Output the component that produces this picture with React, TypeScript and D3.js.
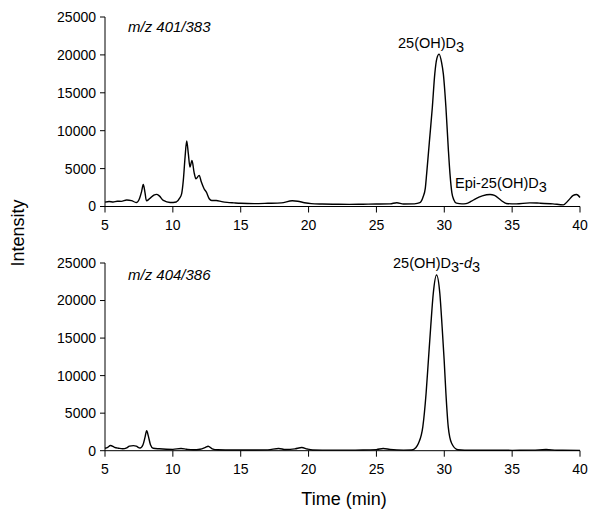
import React from "react";
import * as d3 from "d3";

const xTicks = [5, 10, 15, 20, 25, 30, 35, 40];
const yTicks = [0, 5000, 10000, 15000, 20000, 25000];

const topTime = [5.0, 5.3, 5.6, 5.9, 6.2, 6.6, 6.95, 7.3, 7.55, 7.7, 7.82, 7.95, 8.05, 8.3, 8.6, 8.8, 9.0, 9.3, 9.8, 10.25, 10.5, 10.65, 10.77, 10.9, 11.02, 11.14, 11.26, 11.41, 11.56, 11.7, 11.94, 12.1, 12.3, 12.47, 12.68, 12.86, 13.2, 13.6, 14.0, 14.5, 15.0, 16.0, 17.0, 18.0, 18.8, 19.2, 19.7, 20.2, 21, 22, 23, 24, 25, 26, 26.5, 27.0, 27.8, 28.2, 28.43, 28.6, 28.7, 28.9, 29.12, 29.3, 29.45, 29.62, 29.8, 29.93, 30.12, 30.3, 30.42, 30.56, 30.7, 30.9, 31.3, 31.6, 32.0, 32.3, 32.8, 33.37, 33.7, 34.2, 34.57, 35.3, 36.3, 37.0, 38.0, 38.77, 39.14, 39.5, 39.75, 40.0];
const topIntensity = [570, 650, 600, 700, 680, 850, 780, 530, 1100, 2000, 2900, 1800, 750, 1050, 1500, 1600, 1400, 800, 530, 600, 1100, 1700, 3440, 6520, 8640, 6970, 5200, 6090, 4540, 3660, 4100, 3220, 2340, 1890, 1020, 790, 790, 650, 550, 480, 420, 380, 420, 480, 750, 700, 500, 380, 330, 300, 280, 300, 320, 350, 500, 330, 350, 500, 1230, 2400, 4300, 8500, 13100, 17500, 19500, 20100, 19000, 17500, 13100, 7500, 4300, 1800, 900, 440, 350, 380, 700, 1020, 1400, 1590, 1460, 790, 400, 350, 480, 440, 350, 220, 790, 1460, 1590, 1190];

const bottomTime = [5.0, 5.2, 5.4, 5.7, 6.0, 6.3, 6.6, 6.8, 7.1, 7.3, 7.58, 7.8, 7.95, 8.07, 8.2, 8.35, 8.55, 9.0, 10.0, 10.6, 11.0, 11.5, 12.0, 12.4, 12.6, 12.9, 13.3, 14, 15, 16, 17, 17.8, 18.3, 19.0, 19.5, 19.9, 20.3, 21, 22, 23, 24, 25, 25.5, 26.0, 27, 27.6, 27.9, 28.1, 28.42, 28.66, 28.83, 29.0, 29.19, 29.43, 29.67, 29.84, 29.99, 30.12, 30.29, 30.54, 31.0, 31.5, 33, 35, 36.5, 37.5, 38.3, 40];
const bottomIntensity = [320, 450, 700, 450, 330, 250, 380, 600, 670, 600, 350, 800, 1800, 2670, 1900, 800, 320, 250, 180, 300, 200, 120, 200, 450, 600, 250, 120, 100, 90, 90, 110, 300, 160, 250, 420, 220, 100, 80, 80, 80, 90, 150, 300, 180, 80, 100, 400, 990, 3200, 7650, 12080, 16500, 20970, 23400, 20970, 16500, 12080, 7650, 3200, 990, 120, 60, 60, 50, 70, 160, 60, 40];

const FONT = "Liberation Sans, Arial, sans-serif";

function Panel({ time, intensity, y0, y1, children }: any) {
  const x = d3.scaleLinear().domain([5, 40]).range([105, 580]);
  const y = d3.scaleLinear().domain([0, 25000]).range([y0, y1]);
  const pts = time.map((t: number, i: number) => [t, intensity[i]] as [number, number]);
  const line = d3.line<[number, number]>().x((d) => x(d[0])).y((d) => y(d[1])).curve(d3.curveMonotoneX);
  return (
    <g>
      <line x1={x(5)} x2={x(5)} y1={y(0)} y2={y(25000)} stroke="#000" strokeWidth={1} />
      <line x1={x(5)} x2={x(40)} y1={y(0)} y2={y(0)} stroke="#000" strokeWidth={1} />
      {yTicks.map((v) => (
        <g key={"y" + v}>
          <line x1={x(5) - 5} x2={x(5)} y1={y(v)} y2={y(v)} stroke="#000" />
          <text x={x(5) - 9} y={y(v)} dy="0.35em" textAnchor="end" fontSize={14} fontFamily={FONT}>{v}</text>
        </g>
      ))}
      {xTicks.map((v) => (
        <g key={"x" + v}>
          <line x1={x(v)} x2={x(v)} y1={y(0)} y2={y(0) + 6} stroke="#000" />
          <text x={x(v)} y={y(0) + 23} textAnchor="middle" fontSize={14} fontFamily={FONT}>{v}</text>
        </g>
      ))}
      <path d={line(pts) || ""} fill="none" stroke="#000" strokeWidth={1.4} strokeLinejoin="round" />
      {children}
    </g>
  );
}

export default function App() {
  return (
    <svg width={600} height={518} style={{ position: "absolute", left: 0, top: 0, background: "#fff" }}>
      <rect width={600} height={518} fill="#fff" />
      <Panel time={topTime} intensity={topIntensity} y0={206.5} y1={17}>
        <text x={128} y={32} fontSize={15} fontStyle="italic" fontFamily={FONT}>m/z 401/383</text>
        <text x={398} y={48} fontSize={14.5} fontFamily={FONT}>25(OH)D<tspan dy={4}>3</tspan></text>
        <text x={455} y={188} fontSize={14.5} fontFamily={FONT}>Epi-25(OH)D<tspan dy={4}>3</tspan></text>
      </Panel>
      <Panel time={bottomTime} intensity={bottomIntensity} y0={450.7} y1={263}>
        <text x={128} y={280} fontSize={15} fontStyle="italic" fontFamily={FONT}>m/z 404/386</text>
        <text x={393} y={268} fontSize={14.5} fontFamily={FONT}>25(OH)D<tspan dy={4}>3</tspan><tspan dy={-4}>-</tspan><tspan fontStyle="italic">d</tspan><tspan dy={4}>3</tspan></text>
      </Panel>
      <text transform="translate(24,233) rotate(-90)" textAnchor="middle" fontSize={18} fontFamily={FONT}>Intensity</text>
      <text x={344} y={505} textAnchor="middle" fontSize={18} fontFamily={FONT}>Time (min)</text>
    </svg>
  );
}
